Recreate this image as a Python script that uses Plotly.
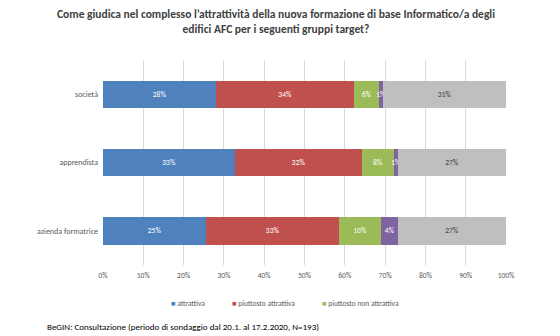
import plotly.graph_objects as go

categories = ["società", "apprendista", "azienda formatrice"]
series_names = ["attrattiva", "piuttosto attrattiva", "piuttosto non attrattiva", "per niente attrattiva", "non so"]
attrattiva = [28.1, 32.8, 25.6]
piuttosto_attrattiva = [34.2, 31.5, 33.0]
piuttosto_non_attrattiva = [6.2, 7.8, 10.4]
per_niente_attrattiva = [1.0, 1.1, 4.2]
non_so = [30.5, 26.8, 26.8]
labels = [
    ["28%", "33%", "25%"],
    ["34%", "32%", "33%"],
    ["6%", "8%", "10%"],
    ["1%", "1%", "4%"],
    ["31%", "27%", "27%"],
]
tick_vals = [0, 10, 20, 30, 40, 50, 60, 70, 80, 90, 100]
tick_text = [f"{v}%" for v in tick_vals]

colors = ["#4F81BD", "#C0504D", "#9BBB59", "#8064A2", "#BFBFBF"]
text_colors = ["#FFFFFF", "#FFFFFF", "#FFFFFF", "#FFFFFF", "#404040"]
FONT = "Carlito, Calibri, Liberation Sans Narrow, Liberation Sans, sans-serif"

fig = go.Figure()
all_series = [attrattiva, piuttosto_attrattiva, piuttosto_non_attrattiva, per_niente_attrattiva, non_so]
for i, vals in enumerate(all_series):
    fig.add_trace(go.Bar(
        y=categories, x=vals, orientation="h", name=series_names[i],
        marker=dict(color=colors[i], line=dict(width=0)),
        text=labels[i], textposition="inside", insidetextanchor="middle",
        constraintext="none", textangle=0,
        textfont=dict(color=text_colors[i], size=7.5, family=FONT),
        showlegend=False, hoverinfo="x+y+name",
    ))

# legend (only first three entries appear in the reference)
legend_x = [169, 230, 320]
for i in range(3):
    fig.add_annotation(
        xref="paper", yref="paper",
        x=(legend_x[i] - 103) / 403, y=-(303 - 265) / 205,
        xanchor="left", yanchor="middle", showarrow=False,
        text=f"<span style='color:{colors[i]}'>■</span> {series_names[i]}",
        font=dict(size=7.5, color="#595959", family=FONT),
    )

fig.add_annotation(
    xref="paper", yref="paper", x=(45 - 103) / 403, y=-(326 - 265) / 205,
    xanchor="left", yanchor="middle", showarrow=False,
    text="BeGIN: Consultazione (periodo di sondaggio dal 20.1. al 17.2.2020, N=193)",
    font=dict(size=9, color="#000000", family=FONT),
)

fig.update_layout(
    barmode="stack", bargap=0.6,
    width=560, height=336,
    margin=dict(l=103, r=54, t=60, b=71),
    paper_bgcolor="white", plot_bgcolor="white",
    title=dict(
        text="<b>Come giudica nel complesso l’attrattività della nuova formazione di base Informatico/a degli<br>edifici AFC per i seguenti gruppi target?</b>",
        x=276 / 560, xref="container", xanchor="center", y=1 - 18 / 336, yanchor="middle",
        font=dict(size=11.5, color="#404040", family=FONT),
    ),
    font=dict(family=FONT),
)
fig.update_xaxes(
    range=[0, 100], tickvals=tick_vals, ticktext=tick_text,
    showgrid=True, gridcolor="#D9D9D9", gridwidth=1, zeroline=False,
    showline=False, ticks="", ticklabelstandoff=4,
    tickfont=dict(size=7.5, color="#595959", family=FONT),
    fixedrange=True,
)
fig.update_yaxes(
    autorange="reversed", showgrid=False, showline=False, ticks="",
    ticklabelstandoff=4,
    tickfont=dict(size=8, color="#595959", family=FONT), fixedrange=True,
)

fig.write_html("out.html")
